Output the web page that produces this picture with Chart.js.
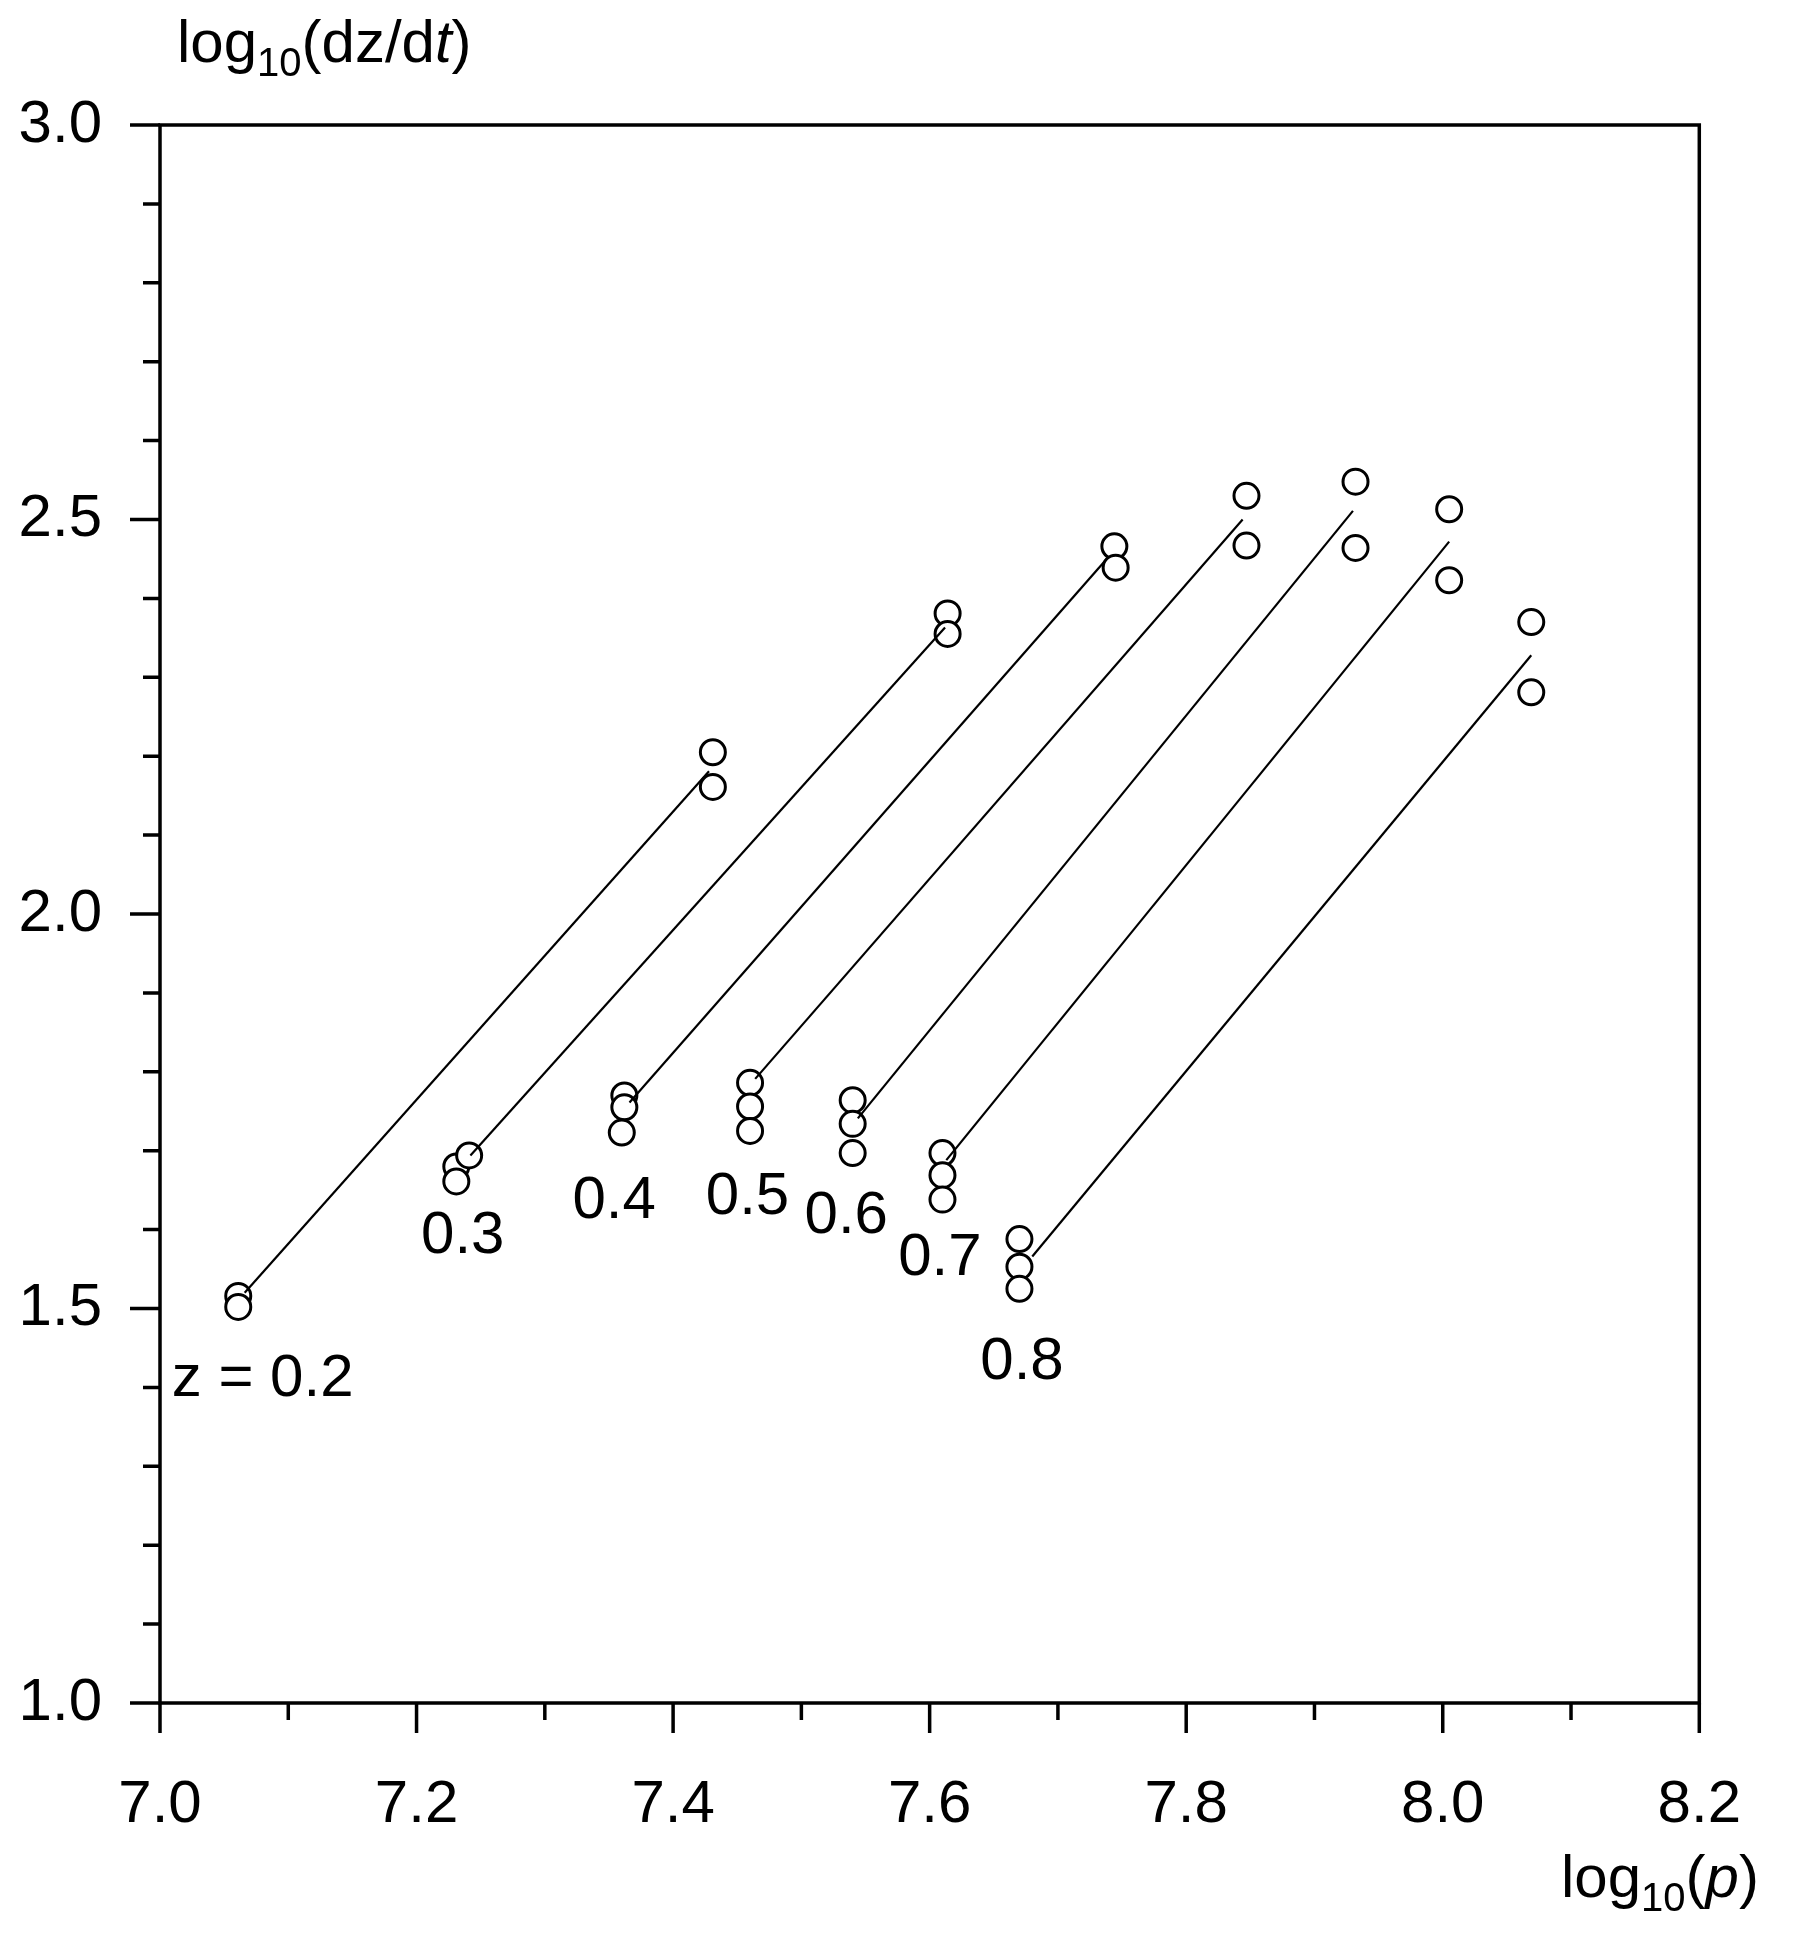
<!DOCTYPE html>
<html>
<head>
<meta charset="utf-8">
<script src="https://cdn.jsdelivr.net/npm/chart.js@4"></script>
<style>
  body { margin: 0; background: #fff; }
  #wrap { width: 1799px; height: 1933px; }
</style>
</head>
<body>
<div id="wrap"><canvas id="chart"></canvas></div>
<script>
// redshift groups
var zLabels = ['z = 0.2', '0.3', '0.4', '0.5', '0.6', '0.7', '0.8'];
var labelX = [7.08, 7.236, 7.354, 7.458, 7.535, 7.608, 7.672];
var labelY = [1.41, 1.591, 1.636, 1.641, 1.617, 1.563, 1.431];

// circles: log10(p), log10(dz/dt)
var pointX = [7.061, 7.061, 7.431, 7.431,
              7.231, 7.231, 7.241, 7.614, 7.614,
              7.362, 7.362, 7.360, 7.744, 7.745,
              7.46, 7.46, 7.46, 7.847, 7.847,
              7.54, 7.54, 7.54, 7.932, 7.932,
              7.61, 7.61, 7.61, 8.005, 8.005,
              7.67, 7.67, 7.67, 8.069, 8.069];
var pointY = [1.516, 1.502, 2.205, 2.161,
              1.680, 1.661, 1.694, 2.381, 2.355,
              1.770, 1.755, 1.723, 2.466, 2.439,
              1.786, 1.756, 1.725, 2.530, 2.467,
              1.764, 1.734, 1.697, 2.548, 2.464,
              1.697, 1.669, 1.638, 2.513, 2.423,
              1.588, 1.553, 1.525, 2.370, 2.281];

// fitted lines: start and end
var lineX0 = [7.066, 7.242, 7.366, 7.464, 7.544, 7.613, 7.680];
var lineY0 = [1.520, 1.694, 1.761, 1.791, 1.741, 1.688, 1.566];
var lineX1 = [7.428, 7.612, 7.738, 7.844, 7.930, 8.005, 8.069];
var lineY1 = [2.181, 2.363, 2.450, 2.500, 2.511, 2.472, 2.328];

var FONT = '"Liberation Sans", Arial, sans-serif';

var datasets = [];
for (var i = 0; i < lineX0.length; i++) {
    datasets.push({
        type: 'line',
        data: [{x: lineX0[i], y: lineY0[i]}, {x: lineX1[i], y: lineY1[i]}],
        borderColor: '#000',
        borderWidth: 2.2,
        pointRadius: 0,
        fill: false
    });
}
datasets.push({
    type: 'scatter',
    data: pointX.map(function (x, k) { return {x: x, y: pointY[k]}; }),
    pointStyle: 'circle',
    pointRadius: 12.5,
    backgroundColor: '#fff',
    borderColor: '#000',
    borderWidth: 3
});

function subText(ctx, x, y, parts) {
    // parts: [text, style, isSub]
    parts.forEach(function (p) {
        var size = p[2] ? 40 : 60;
        ctx.font = p[1] + ' ' + size + 'px ' + FONT;
        ctx.fillText(p[0], x, y + (p[2] ? 14 : 0));
        x += ctx.measureText(p[0]).width;
    });
}

var decor = {
    id: 'decor',
    afterDraw: function (chart) {
        var ctx = chart.ctx, a = chart.chartArea;
        var xs = chart.scales.x, ys = chart.scales.y;
        ctx.save();
        ctx.strokeStyle = '#000';
        ctx.lineWidth = 3.5;
        ctx.strokeRect(a.left, a.top, a.right - a.left, a.bottom - a.top);
        ctx.beginPath();
        for (var v = 70; v <= 82; v++) {
            var px = xs.getPixelForValue(v / 10);
            ctx.moveTo(px, a.bottom);
            ctx.lineTo(px, a.bottom + (v % 2 === 0 ? 30 : 17));
        }
        for (var w = 10; w <= 30; w++) {
            var py = ys.getPixelForValue(w / 10);
            ctx.moveTo(a.left, py);
            ctx.lineTo(a.left - (w % 5 === 0 ? 30 : 17), py);
        }
        ctx.stroke();

        ctx.fillStyle = '#000';
        ctx.textAlign = 'center';
        ctx.textBaseline = 'middle';
        ctx.font = '60px ' + FONT;
        zLabels.forEach(function (t, k) {
            ctx.fillText(t, xs.getPixelForValue(labelX[k]), ys.getPixelForValue(labelY[k]));
        });

        ctx.textAlign = 'left';
        ctx.textBaseline = 'alphabetic';
        subText(ctx, 177, 62, [['log', '', false], ['10', '', true], ['(dz/d', '', false], ['t', 'italic', false], [')', '', false]]);
        subText(ctx, 1561, 1897, [['log', '', false], ['10', '', true], ['(', '', false], ['p', 'italic', false], [')', '', false]]);
        ctx.restore();
    }
};

new Chart(document.getElementById('chart').getContext('2d'), {
    type: 'scatter',
    data: { datasets: datasets },
    options: {
        responsive: true,
        maintainAspectRatio: false,
        animation: false,
        layout: { padding: { top: 125, right: 59, left: 0, bottom: 0 } },
        plugins: { legend: { display: false }, tooltip: { enabled: false } },
        scales: {
            x: {
                type: 'linear', min: 7.0, max: 8.2,
                grid: { display: false }, border: { display: false },
                afterFit: function (s) { s.height = 230; },
                ticks: {
                    stepSize: 0.1, autoSkip: false, padding: 58, color: '#000',
                    font: { family: FONT, size: 60 },
                    callback: function (v) { var n = Math.round(v * 10); return n % 2 === 0 ? (n / 10).toFixed(1) : ''; }
                }
            },
            y: {
                type: 'linear', min: 1.0, max: 3.0,
                grid: { display: false }, border: { display: false },
                afterFit: function (s) { s.width = 160; },
                ticks: {
                    stepSize: 0.1, autoSkip: false, padding: 50, color: '#000',
                    font: { family: FONT, size: 60 },
                    callback: function (v) { var n = Math.round(v * 10); return n % 5 === 0 ? (n / 10).toFixed(1) : ''; }
                }
            }
        }
    },
    plugins: [decor]
});
</script>
</body>
</html>
